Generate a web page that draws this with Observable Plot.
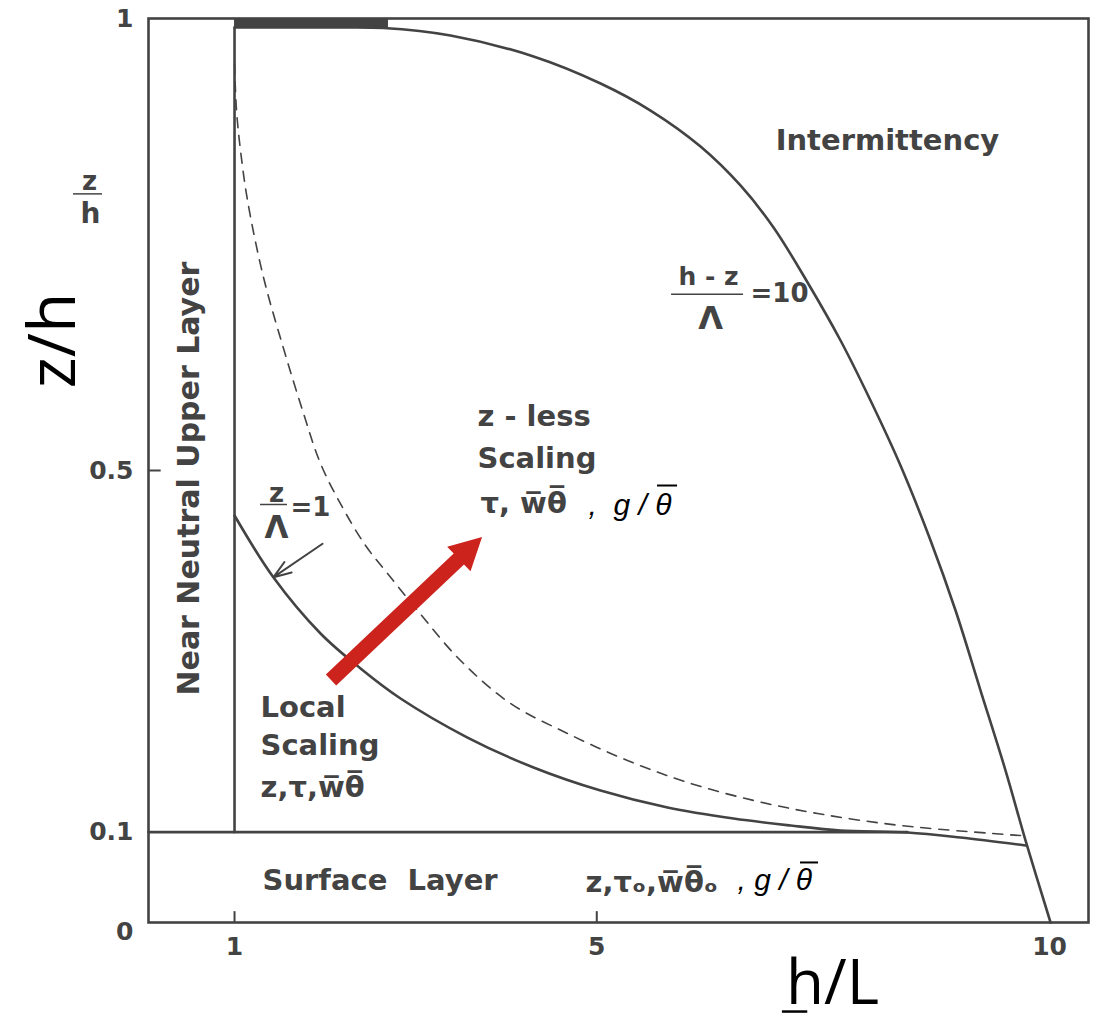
<!DOCTYPE html>
<html>
<head>
<meta charset="utf-8">
<script src="https://cdn.jsdelivr.net/npm/d3@7"></script>
<script src="https://cdn.jsdelivr.net/npm/@observablehq/plot@0.6"></script>
<style>
  html, body { margin: 0; padding: 0; background: #ffffff; }
  #chart svg { display: block; }
</style>
</head>
<body>
<div id="chart"></div>
<script>
// ---------- axis ticks ----------
const xTicks = [1, 5, 10];
const xTickMarks = [1, 5];
const yTicks = [0.1, 0.5, 1];
const yZeroTick = [0];
const yTickMarks = [0.5];

// ---------- boundary lines ----------
const surfaceLineX = [0.05, 8.43];          // z/h = 0.1 (top of surface layer)
const surfaceLineY = [0.1, 0.1];
const neutralLineX = [1, 1];                // h/L = 1 (near-neutral limit)
const neutralLineY = [0.1, 0.99];
const topBandX = [1.0, 2.7];                // thick band under the top frame
const topBandY = [0.99, 0.99];

// ---------- curve: (h - z)/Λ = 10 ----------
const outerX = [1.0, 2.0, 2.645, 3.385, 4.302, 5.042, 5.594, 6.146, 6.587, 6.952, 7.328, 7.692, 8.023, 8.354, 8.686, 8.962, 9.238, 9.514, 9.735, 10.011];
const outerY = [0.99, 0.99, 0.9895, 0.9812, 0.958, 0.9281, 0.8982, 0.8584, 0.8153, 0.7688, 0.708, 0.6438, 0.5774, 0.5055, 0.4226, 0.3451, 0.2566, 0.1681, 0.0907, 0.0];

// ---------- curve: z/Λ = 1 ----------
const localX = [1.0, 1.4307, 1.9497, 2.3914, 2.8331, 3.5729, 4.3017, 5.0415, 5.7813, 6.5101, 7.1396, 7.6917, 8.4316, 9.0168, 9.7346];
const localY = [0.4502, 0.3816, 0.3197, 0.281, 0.2478, 0.2046, 0.1715, 0.146, 0.1272, 0.115, 0.1073, 0.1018, 0.0996, 0.094, 0.0852];

// ---------- dashed curve ----------
const dashX = [1.0, 1.022, 1.066, 1.1436, 1.3202, 1.5411, 1.7619, 1.9497, 2.1926, 2.4466, 2.6895, 3.0208, 3.4956, 4.0477, 4.6772, 5.3397, 6.0022, 6.731, 7.4377, 8.3542, 9.6793];
const dashY = [0.95, 0.8982, 0.854, 0.7987, 0.7135, 0.635, 0.5631, 0.5077, 0.4591, 0.417, 0.3861, 0.3451, 0.2898, 0.2423, 0.2091, 0.1792, 0.1549, 0.135, 0.1206, 0.1073, 0.0962];

// ---------- annotations ----------
const regionLabels = [ // left-anchored, bold gray
  {x: 3.683, y: 0.5597, text: "z - less"},
  {x: 3.683, y: 0.513, text: "Scaling"},
  {x: 3.716, y: 0.4635, text: "τ, w\u0305θ\u0305"},
  {x: 1.287, y: 0.238, text: "Local"},
  {x: 1.287, y: 0.196, text: "Scaling"},
  {x: 1.287, y: 0.149, text: "z,τ,w\u0305θ\u0305"},
  {x: 1.309, y: 0.0465, text: "Surface  Layer"},
  {x: 4.876, y: 0.044, text: "z,τₒ,w\u0305θ\u0305ₒ"}
];
const italicLabels = [
  {x: 4.909, y: 0.461, text: ",  g / θ"},
  {x: 6.554, y: 0.0465, text: ", g / θ"}
];
const titleLabels = [{x: 8.21, y: 0.865, text: "Intermittency"}];
const fracTexts = [
  {x: 6.234, y: 0.7135, text: "h - z", size: 25},
  {x: 6.256, y: 0.668, text: "Λ", size: 32},
  {x: 1.464, y: 0.4746, text: "z", size: 26},
  {x: 1.464, y: 0.4358, text: "Λ", size: 31},
  {x: -0.601, y: 0.82, text: "z", size: 26},
  {x: -0.59, y: 0.784, text: "h", size: 28}
];
const fracEquals = [
  {x: 6.698, y: 0.696, text: "=10"},
  {x: 1.618, y: 0.459, text: "=1"}
];
const fracBars = [
  {x1: -0.778, x2: -0.458, y: 0.806},
  {x1: 5.826, x2: 6.621, y: 0.695},
  {x1: 1.287, x2: 1.585, y: 0.4624}
];
const overBars = [ // bars over the italic θ
  {x1: 5.671, x2: 5.892, y: 0.4834},
  {x1: 7.25, x2: 7.449, y: 0.0664}
];
const sideLabel = [{x: 0.503, y: 0.491, text: "Near Neutral Upper Layer"}];
const yTitle = [{x: -0.995, y: 0.644, text: "z/h"}];
const xTitle = [{x: 7.603, y: -0.068, text: "h/L"}];
const xTitleUnderline = [{x1: 7.05, x2: 7.33, y: -0.0985}];
const pointerArrow = [{x1: 1.972, y1: 0.419, x2: 1.431, y2: 0.382}];
const redArrow = [{x1: 2.071, y1: 0.2677, x2: 3.739, y2: 0.4259}];

// ---------- styles ----------
const INK = "#434343";
const RED = "#cc231d";
const LABEL_FONT = "DejaVu Sans";
const TICK_FONT = "DejaVu Sans";

function redArrowMark(index, scales) {
  const a = redArrow[0];
  const X1 = scales.x(a.x1), Y1 = scales.y(a.y1), X2 = scales.x(a.x2), Y2 = scales.y(a.y2);
  const dx = X2 - X1, dy = Y2 - Y1, L = Math.hypot(dx, dy);
  const ux = dx / L, uy = dy / L, px = -uy, py = ux;
  const headLen = 32, headHalf = 17, shaft = 7.5;
  const bx = X2 - ux * headLen, by = Y2 - uy * headLen;
  const pts = [
    [X1 + px * shaft, Y1 + py * shaft], [bx + px * shaft, by + py * shaft],
    [bx + px * headHalf, by + py * headHalf], [X2, Y2],
    [bx - px * headHalf, by - py * headHalf], [bx - px * shaft, by - py * shaft],
    [X1 - px * shaft, Y1 - py * shaft]
  ];
  const path = document.createElementNS("http://www.w3.org/2000/svg", "path");
  path.setAttribute("d", "M" + pts.map(p => p[0].toFixed(2) + "," + p[1].toFixed(2)).join("L") + "Z");
  path.setAttribute("fill", RED);
  return path;
}

const zip = (xs, ys) => xs.map((x, i) => ({x, y: ys[i]}));

const chart = Plot.plot({
  width: 1096,
  height: 1020,
  marginLeft: 148,
  marginRight: 8,
  marginTop: 18,
  marginBottom: 98,
  x: {domain: [0.05, 10.43], axis: null},
  y: {domain: [0, 1], axis: null},
  style: {background: "#ffffff", overflow: "visible"},
  marks: [
    Plot.frame({stroke: INK, strokeWidth: 2.6}),
    // inward tick marks
    Plot.ruleX(xTickMarks, {x: d => d, y1: d => 0, y2: d => 0.012, stroke: INK, strokeWidth: 2}),
    Plot.ruleY(yTickMarks, {y: d => d, x1: d => 0.05, x2: d => 0.19, stroke: INK, strokeWidth: 2}),
    // top band
    Plot.areaY(zip(topBandX, topBandY), {x: "x", y1: "y", y2: d => 1, fill: INK}),
    // boundaries
    Plot.line(zip(surfaceLineX, surfaceLineY), {x: "x", y: "y", stroke: INK, strokeWidth: 2.6}),
    Plot.line(zip(neutralLineX, neutralLineY), {x: "x", y: "y", stroke: INK, strokeWidth: 2.6}),
    // curves
    Plot.line(zip(dashX, dashY), {x: "x", y: "y", stroke: INK, strokeWidth: 1.6, strokeDasharray: "10,8", curve: "catmull-rom"}),
    Plot.line(zip(localX, localY), {x: "x", y: "y", stroke: INK, strokeWidth: 2.6, curve: "catmull-rom"}),
    Plot.line(zip(outerX, outerY), {x: "x", y: "y", stroke: INK, strokeWidth: 2.6, curve: "catmull-rom"}),
    // pointer arrow to z/Λ = 1
    Plot.arrow(pointerArrow, {x1: "x1", y1: "y1", x2: "x2", y2: "y2", stroke: INK, strokeWidth: 2, headLength: 14, headAngle: 40}),
    // red arrow
    redArrowMark,
    // fraction bars and overbars
    Plot.ruleY(fracBars, {y: "y", x1: "x1", x2: "x2", stroke: INK, strokeWidth: 1.5}),
    Plot.ruleY(overBars, {y: "y", x1: "x1", x2: "x2", stroke: "#000", strokeWidth: 2}),
    // tick labels
    Plot.text(xTicks, {x: d => d, y: d => 0, text: d => String(d), dy: 24, fontFamily: TICK_FONT, fontWeight: "bold", fontSize: 25, fill: INK}),
    Plot.text(yTicks, {x: d => 0.05, y: d => d, text: d => String(d), dx: -15, textAnchor: "end", fontFamily: TICK_FONT, fontWeight: "bold", fontSize: 25, fill: INK}),
    Plot.text(yZeroTick, {x: d => 0.05, y: d => d, text: d => String(d), dx: -15, dy: 9, textAnchor: "end", fontFamily: TICK_FONT, fontWeight: "bold", fontSize: 25, fill: INK}),
    // labels
    Plot.text(titleLabels, {x: "x", y: "y", text: "text", fontFamily: LABEL_FONT, fontWeight: "bold", fontSize: 29, fill: INK}),
    Plot.text(regionLabels, {x: "x", y: "y", text: "text", textAnchor: "start", fontFamily: LABEL_FONT, fontWeight: "bold", fontSize: 29, fill: INK}),
    Plot.text(italicLabels, {x: "x", y: "y", text: "text", textAnchor: "start", fontFamily: "Liberation Sans", fontStyle: "italic", fontSize: 30, fill: "#000"}),
    Plot.text(fracTexts, {x: "x", y: "y", text: "text", fontSize: "size", fontFamily: LABEL_FONT, fontWeight: "bold", fill: INK}),
    Plot.text(fracEquals, {x: "x", y: "y", text: "text", textAnchor: "start", fontFamily: LABEL_FONT, fontWeight: "bold", fontSize: 26, fill: INK}),
    Plot.text(sideLabel, {x: "x", y: "y", text: "text", rotate: -90, fontFamily: LABEL_FONT, fontWeight: "bold", fontSize: 30, fill: INK}),
    Plot.text(yTitle, {x: "x", y: "y", text: "text", rotate: -90, fontFamily: "Open Sans", fontSize: 66, fill: "#000"}),
    Plot.text(xTitle, {x: "x", y: "y", text: "text", fontFamily: "Open Sans", fontSize: 62, fill: "#000"}),
    Plot.ruleY(xTitleUnderline, {y: "y", x1: "x1", x2: "x2", stroke: "#000", strokeWidth: 2.5})
  ]
});
document.getElementById("chart").appendChild(chart);
</script>
</body>
</html>
